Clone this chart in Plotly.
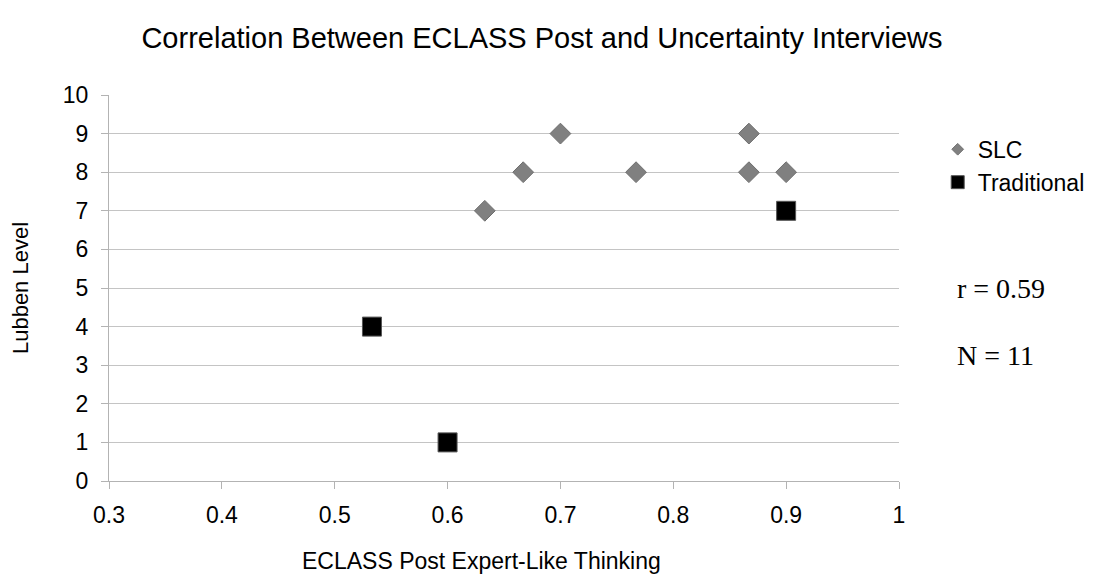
import plotly.graph_objects as go

slc_x = [0.633, 0.667, 0.7, 0.767, 0.867, 0.867, 0.9]
slc_y = [7, 8, 9, 8, 9, 8, 8]
trad_x = [0.533, 0.6, 0.9]
trad_y = [4, 1, 7]
x_ticks = [0.3, 0.4, 0.5, 0.6, 0.7, 0.8, 0.9, 1]
y_ticks = list(range(0, 11))

SLC_COLOR = "#808080"
TRAD_COLOR = "#000000"

fig = go.Figure()
fig.add_trace(go.Scatter(x=slc_x, y=slc_y, mode="markers", name="SLC", showlegend=False,
                         marker=dict(symbol="diamond", size=16, color=SLC_COLOR,
                                     line=dict(color="#6e6e6e", width=1))))
fig.add_trace(go.Scatter(x=trad_x, y=trad_y, mode="markers", name="Traditional", showlegend=False,
                         marker=dict(symbol="square", size=19, color=TRAD_COLOR,
                                     line=dict(color="#555555", width=1))))
# legend entries with small symbols
fig.add_trace(go.Scatter(x=[None], y=[None], mode="markers", name="SLC",
                         marker=dict(symbol="diamond", size=9, color=SLC_COLOR,
                                     line=dict(color="#6e6e6e", width=1))))
fig.add_trace(go.Scatter(x=[None], y=[None], mode="markers", name="Traditional",
                         marker=dict(symbol="square", size=13, color=TRAD_COLOR,
                                     line=dict(color="#555555", width=1))))

fig.update_layout(
    width=1086, height=570,
    paper_bgcolor="white", plot_bgcolor="white",
    margin=dict(l=101, r=195, t=87, b=97, autoexpand=False),
    font=dict(family="Liberation Sans, Arial, sans-serif", size=23, color="black"),
    title=dict(text="Correlation Between ECLASS Post and Uncertainty Interviews",
               xref="container", x=0.4917, xanchor="center", y=0.947, yanchor="middle",
               font=dict(size=29, color="black")),
    xaxis=dict(range=[0.3, 1], tickvals=x_ticks, ticktext=[str(v) for v in x_ticks],
               showgrid=False, showline=True, linecolor="#b3b3b3", linewidth=1,
               ticks="outside", ticklen=7, tickcolor="#b3b3b3", zeroline=False,
               ticklabelstandoff=6, tickfont=dict(size=23)),
    yaxis=dict(range=[0, 10], tickvals=y_ticks, showgrid=True, gridcolor="#c4c4c4",
               showline=True, linecolor="#b3b3b3", linewidth=1,
               ticks="outside", ticklen=7, tickcolor="#b3b3b3", zeroline=False,
               ticklabelstandoff=8, tickfont=dict(size=23),
               title=dict(text="Lubben Level", font=dict(size=22), standoff=30)),
    legend=dict(x=1.049, y=0.915, xanchor="left", yanchor="top",
                font=dict(size=23), itemsizing="trace", tracegroupgap=0,
                bgcolor="rgba(0,0,0,0)"),
    showlegend=True,
)
fig.add_annotation(x=0.472, y=-0.207, xref="paper", yref="paper", xanchor="center", yanchor="middle",
                   text="ECLASS Post Expert-Like Thinking", showarrow=False,
                   font=dict(size=23))
fig.add_annotation(x=1.071, y=0.5, xref="paper", yref="paper", xanchor="left", yanchor="middle",
                   text="r = 0.59", showarrow=False,
                   font=dict(family="Liberation Serif, Times New Roman, serif", size=28))
fig.add_annotation(x=1.071, y=0.326, xref="paper", yref="paper", xanchor="left", yanchor="middle",
                   text="N = 11", showarrow=False,
                   font=dict(family="Liberation Serif, Times New Roman, serif", size=28))
fig.write_html("out.html")
